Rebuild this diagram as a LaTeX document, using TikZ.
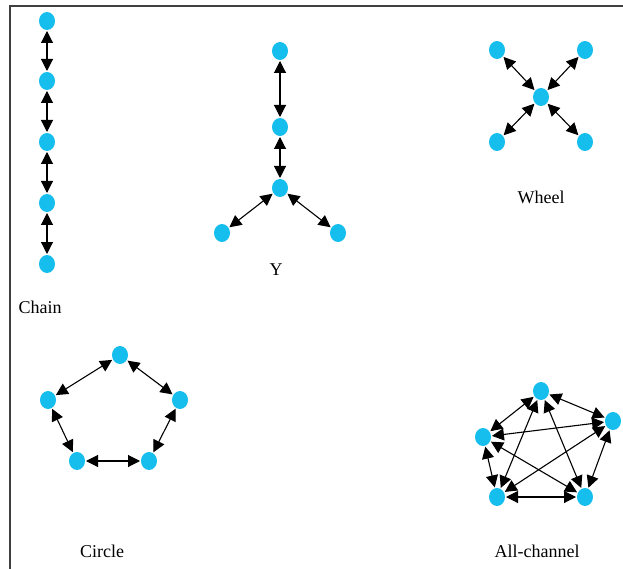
\documentclass[tikz,border=0pt]{standalone}
\usepackage{fontspec}
\setmainfont{Liberation Serif}
\usetikzlibrary{arrows.meta,shapes.geometric}
\definecolor{nodecyan}{RGB}{22,190,238}
\definecolor{framegray}{RGB}{64,64,64}
\tikzset{
  dot/.style={ellipse,fill=nodecyan,draw=none,minimum width=16pt,minimum height=18pt,inner sep=0pt,outer sep=1pt},
  link/.style={{Triangle[length=12pt,width=12pt]}-{Triangle[length=12pt,width=12pt]},line width=1.1pt,black},
  lbl/.style={font=\fontsize{18}{21}\selectfont,inner sep=0pt}
}
\begin{document}
\begin{tikzpicture}[x=1pt,y=-1pt]
\useasboundingbox (0,0) rectangle (623,569);
\fill[white] (0,0) rectangle (623,569);
\draw[framegray,line width=2.5pt] (10,569) -- (10,6) -- (623,6);

% Chain
\node[dot] (c1) at (47,21) {};
\node[dot] (c2) at (47,81) {};
\node[dot] (c3) at (47,142) {};
\node[dot] (c4) at (47,203) {};
\node[dot] (c5) at (47,264) {};
\draw[link] (c1) -- (c2);
\draw[link] (c2) -- (c3);
\draw[link] (c3) -- (c4);
\draw[link] (c4) -- (c5);
\node[lbl] (lchain) at (40,307) {Chain};

% Y
\node[dot] (y1) at (280,51) {};
\node[dot] (y2) at (280,127) {};
\node[dot] (y3) at (280,188) {};
\node[dot] (y4) at (222,233) {};
\node[dot] (y5) at (338,233) {};
\draw[link] (y1) -- (y2);
\draw[link] (y2) -- (y3);
\draw[link] (y3) -- (y4);
\draw[link] (y3) -- (y5);
\node[lbl] (ly) at (276,270) {Y};

% Wheel
\node[dot] (w0) at (541,97) {};
\node[dot] (w1) at (497,50) {};
\node[dot] (w2) at (585,50) {};
\node[dot] (w3) at (497,142) {};
\node[dot] (w4) at (585,142) {};
\draw[link] (w0) -- (w1);
\draw[link] (w0) -- (w2);
\draw[link] (w0) -- (w3);
\draw[link] (w0) -- (w4);
\node[lbl] (lwheel) at (541,197) {Wheel};

% Circle
\node[dot] (r1) at (120,355) {};
\node[dot] (r2) at (180,400) {};
\node[dot] (r3) at (149,461) {};
\node[dot] (r4) at (77,461) {};
\node[dot] (r5) at (48,400) {};
\draw[link] (r1) -- (r2);
\draw[link] (r2) -- (r3);
\draw[link] (r3) -- (r4);
\draw[link] (r4) -- (r5);
\draw[link] (r5) -- (r1);
\node[lbl] (lcircle) at (102,551) {Circle};

% All-channel
\node[dot] (a1) at (541,391) {};
\node[dot] (a2) at (613,421) {};
\node[dot] (a3) at (585,497) {};
\node[dot] (a4) at (497,497) {};
\node[dot] (a5) at (483,437) {};
\draw[link] (a1) -- (a2);
\draw[link] (a2) -- (a3);
\draw[link] (a3) -- (a4);
\draw[link] (a4) -- (a5);
\draw[link] (a5) -- (a1);
\draw[link] (a1) -- (a3);
\draw[link] (a1) -- (a4);
\draw[link] (a2) -- (a4);
\draw[link] (a2) -- (a5);
\draw[link] (a3) -- (a5);
\node[lbl] (lall) at (537,551) {All-channel};
\end{tikzpicture}
\end{document}
